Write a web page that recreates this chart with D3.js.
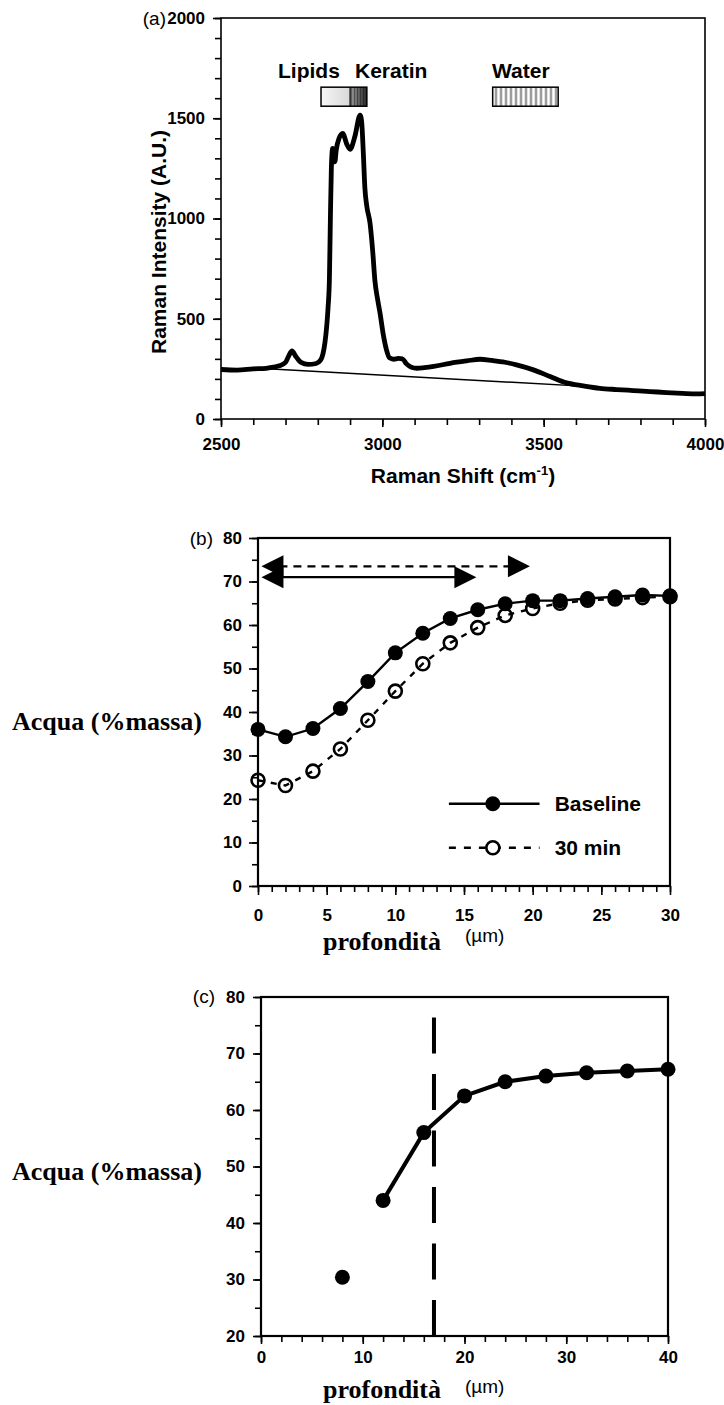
<!DOCTYPE html>
<html>
<head>
<meta charset="utf-8">
<script src="https://cdn.jsdelivr.net/npm/d3@7"></script>
<style>
  body { margin: 0; background: #fff; }
  svg { font-family: "Liberation Sans", Arial, sans-serif; }
  svg text { fill: #000; }
</style>
</head>
<body>
<div id="chart"></div>
<script>
// ---- panel (a): Raman spectrum ----
const ramanShift = [2500, 2550, 2600, 2640, 2680, 2700, 2710, 2720, 2732, 2748,
  2770, 2795, 2808, 2816, 2822, 2828, 2832, 2836, 2839, 2842,
  2846, 2850, 2853, 2857, 2866, 2877, 2890, 2900, 2915, 2931,
  2936, 2941, 2946, 2952, 2962, 2970, 2977, 2985, 2993, 3003,
  3013, 3022, 3035, 3050, 3062, 3075, 3090, 3107, 3130, 3159,
  3210, 3262, 3303, 3340, 3380, 3416, 3468, 3520, 3571, 3623,
  3674, 3726, 3778, 3830, 3881, 3930, 3974, 4000];
const ramanIntensity = [247, 244, 250, 253, 265, 282, 315, 340, 312, 282,
  272, 277, 292, 325, 380, 470, 560, 700, 1000, 1250,
  1350, 1320, 1283, 1340, 1400, 1425, 1370, 1345, 1410, 1516,
  1480, 1330, 1150, 1060, 975, 840, 690, 600, 527, 420,
  344, 305, 298, 302, 300, 275, 258, 253, 256, 262,
  278, 290, 298, 292, 283, 270, 245, 212, 180, 165,
  153, 147, 142, 137, 132, 128, 125, 127];
const fitShift = [2630, 3660];
const fitIntensity = [252, 160];
const bandNames = ["Lipids", "Keratin", "Water"];
const bandFrom = [2810, 2900, 3342];
const bandTo = [2900, 2952, 3545];
const bandLow = 1560, bandHigh = 1655;
const shiftTicks = [2500, 3000, 3500, 4000];
const intensityTicks = [0, 500, 1000, 1500, 2000];

// ---- panel (b): water profile, baseline vs 30 min ----
const depthB = [0, 2, 4, 6, 8, 10, 12, 14, 16, 18, 20, 22, 24, 26, 28, 30];
const waterBaseline = [36.0, 34.3, 36.2, 40.8, 47.0, 53.6, 58.1, 61.5, 63.5, 64.9, 65.6, 65.6, 66.1, 66.5, 66.9, 66.7];
const water30min = [24.3, 23.1, 26.4, 31.5, 38.1, 44.8, 51.1, 55.9, 59.4, 62.2, 63.8, 65.0, 65.7, 66.0, 66.3, 66.5];
const arrowEnd = [19.8, 15.9];     // dashed (30 min), solid (baseline)
const arrowLevel = [73.5, 71.0];
const seriesNames = ["Baseline", "30 min"];
const depthTicksB = [0, 5, 10, 15, 20, 25, 30];
const waterTicksB = [0, 10, 20, 30, 40, 50, 60, 70, 80];

// ---- panel (c) ----
const depthC = [8, 12, 16, 20, 24, 28, 32, 36, 40];
const waterC = [30.4, 44.0, 56.0, 62.5, 65.0, 66.0, 66.6, 66.9, 67.2];
const markerDepthC = 17;
const depthTicksC = [0, 10, 20, 30, 40];
const waterTicksC = [20, 30, 40, 50, 60, 70, 80];

const serif = "Liberation Serif, Times New Roman, serif";

const svg = d3.select("#chart").append("svg")
  .attr("width", 724).attr("height", 1405);

const defs = svg.append("defs");
// light fill for lipids
const gl = defs.append("linearGradient").attr("id", "lipidFill");
gl.append("stop").attr("offset", "0%").attr("stop-color", "#f6f6f6");
gl.append("stop").attr("offset", "100%").attr("stop-color", "#d8d8d8");
// darker graded stripes for keratin
const gk = defs.append("linearGradient").attr("id", "keratinFill");
gk.append("stop").attr("offset", "0%").attr("stop-color", "#9a9a9a");
gk.append("stop").attr("offset", "100%").attr("stop-color", "#2a2a2a");
const pk = defs.append("pattern").attr("id", "keratinStripes")
  .attr("patternUnits", "userSpaceOnUse").attr("width", 3).attr("height", 10);
pk.append("rect").attr("width", 1).attr("height", 10).attr("fill", "#000").attr("opacity", 0.35);
// vertical stripes for water
const pw = defs.append("pattern").attr("id", "waterStripes")
  .attr("patternUnits", "userSpaceOnUse").attr("width", 5).attr("height", 10);
pw.append("rect").attr("width", 5).attr("height", 10).attr("fill", "#e4e4e4");
pw.append("rect").attr("width", 2).attr("height", 10).attr("fill", "#9c9c9c");
pw.append("rect").attr("x", 3).attr("width", 1).attr("height", 10).attr("fill", "#fff");

function drawAxes(g, x, y, o) {
  const xr = x.range(), yr = y.range();
  const bottom = g.append("g").attr("transform", `translate(0,${yr[0]})`);
  bottom.call(d3.axisBottom(x).tickValues(o.xMinor).tickSize(6).tickFormat(""));
  bottom.append("g").call(d3.axisBottom(x).tickValues(o.xMajor).tickSize(o.major)
    .tickPadding(o.xPad).tickFormat(d3.format("d")));
  const left = g.append("g").attr("transform", `translate(${xr[0]},0)`);
  left.call(d3.axisLeft(y).tickValues(o.yMinor).tickSize(6).tickFormat(""));
  left.append("g").call(d3.axisLeft(y).tickValues(o.yMajor).tickSize(o.major)
    .tickPadding(o.yPad).tickFormat(d3.format("d")));
  g.selectAll(".domain").remove();
  g.selectAll(".tick line").attr("stroke", "#000").attr("stroke-width", 1.6);
  g.selectAll(".tick text").attr("font-size", 17).attr("font-weight", "bold")
    .attr("font-family", "Liberation Sans, Arial, sans-serif").attr("fill", "#000");
  g.append("rect")
    .attr("x", xr[0]).attr("y", yr[1])
    .attr("width", xr[1] - xr[0]).attr("height", yr[0] - yr[1])
    .attr("fill", "none").attr("stroke", "#000").attr("stroke-width", o.frame);
}

// ================= (a) =================
const ga = svg.append("g");
const xa = d3.scaleLinear().domain([2500, 4000]).range([221, 705]);
const ya = d3.scaleLinear().domain([0, 2000]).range([419, 18]);

ga.append("path")
  .datum(fitShift.map((s, i) => [s, fitIntensity[i]]))
  .attr("fill", "none").attr("stroke", "#000").attr("stroke-width", 1.4)
  .attr("d", d3.line().x(d => xa(d[0])).y(d => ya(d[1])));

ga.append("path")
  .datum(ramanShift.map((s, i) => [s, ramanIntensity[i]]))
  .attr("fill", "none").attr("stroke", "#000").attr("stroke-width", 4.8)
  .attr("stroke-linejoin", "round")
  .attr("d", d3.line().x(d => xa(d[0])).y(d => ya(d[1])).curve(d3.curveMonotoneX));

drawAxes(ga, xa, ya, {
  xMajor: shiftTicks, xMinor: d3.range(2500, 4001, 100),
  yMajor: intensityTicks, yMinor: d3.range(0, 2001, 100),
  major: 8, xPad: 11, yPad: 8, frame: 1.6
});

const bandFills = ["url(#lipidFill)", "url(#keratinFill)", "url(#waterStripes)"];
ga.selectAll(".band").data(bandNames).enter().append("rect")
  .attr("class", "band")
  .attr("x", (d, i) => xa(bandFrom[i]))
  .attr("y", ya(bandHigh))
  .attr("width", (d, i) => xa(bandTo[i]) - xa(bandFrom[i]))
  .attr("height", ya(bandLow) - ya(bandHigh))
  .attr("fill", (d, i) => bandFills[i]);
ga.append("rect")
  .attr("x", xa(bandFrom[1])).attr("y", ya(bandHigh))
  .attr("width", xa(bandTo[1]) - xa(bandFrom[1])).attr("height", ya(bandLow) - ya(bandHigh))
  .attr("fill", "url(#keratinStripes)");
// outlines: lipids+keratin share one box
[[bandFrom[0], bandTo[1]], [bandFrom[2], bandTo[2]]].forEach(r => {
  ga.append("rect")
    .attr("x", xa(r[0])).attr("y", ya(bandHigh))
    .attr("width", xa(r[1]) - xa(r[0])).attr("height", ya(bandLow) - ya(bandHigh))
    .attr("fill", "none").attr("stroke", "#000").attr("stroke-width", 1.5);
});
ga.append("line")
  .attr("x1", xa(bandTo[0])).attr("x2", xa(bandTo[0]))
  .attr("y1", ya(bandHigh)).attr("y2", ya(bandLow))
  .attr("stroke", "#000").attr("stroke-width", 1.2);

const bandLabelX = [278, 355, 492];
ga.selectAll(".bandLabel").data(bandNames).enter().append("text")
  .attr("x", (d, i) => bandLabelX[i]).attr("y", 78)
  .attr("font-size", 21).attr("font-weight", "bold")
  .text(d => d);

ga.append("text").attr("x", 166).attr("y", 25).attr("text-anchor", "end")
  .attr("font-size", 19).text("(a)");

const xt = ga.append("text").attr("x", 463).attr("y", 483)
  .attr("text-anchor", "middle").attr("font-size", 21).attr("font-weight", "bold");
xt.append("tspan").text("Raman Shift (cm");
xt.append("tspan").attr("font-size", 13).attr("dy", -8).text("-1");
xt.append("tspan").attr("dy", 8).text(")");

ga.append("text")
  .attr("transform", "translate(166,242) rotate(-90)")
  .attr("text-anchor", "middle").attr("font-size", 21).attr("font-weight", "bold")
  .text("Raman Intensity (A.U.)");

// ================= (b) =================
const gb = svg.append("g");
const xb = d3.scaleLinear().domain([0, 30]).range([258, 670]);
const yb = d3.scaleLinear().domain([0, 80]).range([886, 538]);

drawAxes(gb, xb, yb, {
  xMajor: depthTicksB, xMinor: d3.range(0, 31, 1),
  yMajor: waterTicksB, yMinor: d3.range(0, 81, 5),
  major: 9, xPad: 14, yPad: 7, frame: 2.2
});

// range arrows
arrowEnd.forEach((e, i) => {
  const yy = yb(arrowLevel[i]);
  const x0 = xb(0.25), x1 = xb(e);
  gb.append("line")
    .attr("x1", x0 + 18).attr("x2", x1 - 18).attr("y1", yy).attr("y2", yy)
    .attr("stroke", "#000").attr("stroke-width", 2.2)
    .attr("stroke-dasharray", i === 0 ? "8,6" : null);
  gb.append("path")
    .attr("d", `M${x0},${yy}L${x0 + 22},${yy - 11}L${x0 + 22},${yy + 11}Z`).attr("fill", "#000");
  gb.append("path")
    .attr("d", `M${x1},${yy}L${x1 - 22},${yy - 11}L${x1 - 22},${yy + 11}Z`).attr("fill", "#000");
});

const lineB = d3.line().x(d => xb(d[0])).y(d => yb(d[1]));
const ptsBase = depthB.map((d, i) => [d, waterBaseline[i]]);
const pts30 = depthB.map((d, i) => [d, water30min[i]]);

gb.append("path").datum(pts30).attr("d", lineB)
  .attr("fill", "none").attr("stroke", "#000").attr("stroke-width", 2.4)
  .attr("stroke-dasharray", "6,7");
gb.selectAll(".open").data(pts30).enter().append("circle")
  .attr("class", "open").attr("cx", d => xb(d[0])).attr("cy", d => yb(d[1])).attr("r", 6.5)
  .attr("fill", "none").attr("stroke", "#000").attr("stroke-width", 2.6);

gb.append("path").datum(ptsBase).attr("d", lineB)
  .attr("fill", "none").attr("stroke", "#000").attr("stroke-width", 2.4);
gb.selectAll(".filled").data(ptsBase).enter().append("circle")
  .attr("class", "filled").attr("cx", d => xb(d[0])).attr("cy", d => yb(d[1])).attr("r", 7.5)
  .attr("fill", "#000");

// legend
seriesNames.forEach((name, i) => {
  const ly = yb(i === 0 ? 18.9 : 8.8);
  gb.append("line").attr("x1", xb(13.9)).attr("x2", xb(20.5)).attr("y1", ly).attr("y2", ly)
    .attr("stroke", "#000").attr("stroke-width", 2.4)
    .attr("stroke-dasharray", i === 0 ? null : "7,8");
  gb.append("circle").attr("cx", xb(17.1)).attr("cy", ly).attr("r", i === 0 ? 7.5 : 6.5)
    .attr("fill", i === 0 ? "#000" : "#fff").attr("stroke", "#000")
    .attr("stroke-width", i === 0 ? 0 : 2.6);
  gb.append("text").attr("x", xb(21.6)).attr("y", ly).attr("dy", "0.36em")
    .attr("font-size", 21).attr("font-weight", "bold").text(name);
});

gb.append("text").attr("x", 213).attr("y", 545).attr("text-anchor", "end")
  .attr("font-size", 19).text("(b)");
gb.append("text").attr("x", 12).attr("y", 730)
  .attr("font-family", serif)
  .attr("font-size", 26).attr("font-weight", "bold").text("Acqua (%massa)");
gb.append("text").attr("x", 323).attr("y", 950)
  .attr("font-family", serif)
  .attr("font-size", 26).attr("font-weight", "bold").text("profondità");
gb.append("text").attr("x", 465).attr("y", 942).attr("font-size", 19).text("(\u00b5m)");

// ================= (c) =================
const gc = svg.append("g");
const xc = d3.scaleLinear().domain([0, 40]).range([261, 668]);
const yc = d3.scaleLinear().domain([20, 80]).range([1336, 997]);

drawAxes(gc, xc, yc, {
  xMajor: depthTicksC, xMinor: d3.range(0, 41, 2),
  yMajor: waterTicksC, yMinor: d3.range(20, 81, 5),
  major: 8, xPad: 7, yPad: 8, frame: 2.2
});

gc.append("line")
  .attr("x1", xc(markerDepthC)).attr("x2", xc(markerDepthC))
  .attr("y1", yc(20)).attr("y2", yc(80))
  .attr("stroke", "#000").attr("stroke-width", 4)
  .attr("stroke-dasharray", "36,20.5");

const ptsC = depthC.map((d, i) => [d, waterC[i]]);
gc.append("path").datum(ptsC.slice(1))
  .attr("d", d3.line().x(d => xc(d[0])).y(d => yc(d[1])))
  .attr("fill", "none").attr("stroke", "#000").attr("stroke-width", 4)
  .attr("stroke-linejoin", "round");
gc.selectAll(".pt").data(ptsC).enter().append("circle")
  .attr("class", "pt").attr("cx", d => xc(d[0])).attr("cy", d => yc(d[1])).attr("r", 7.5)
  .attr("fill", "#000");

gc.append("text").attr("x", 215).attr("y", 1003).attr("text-anchor", "end")
  .attr("font-size", 19).text("(c)");
gc.append("text").attr("x", 12).attr("y", 1180)
  .attr("font-family", serif)
  .attr("font-size", 26).attr("font-weight", "bold").text("Acqua (%massa)");
gc.append("text").attr("x", 323).attr("y", 1398)
  .attr("font-family", serif)
  .attr("font-size", 26).attr("font-weight", "bold").text("profondità");
gc.append("text").attr("x", 465).attr("y", 1393).attr("font-size", 19).text("(\u00b5m)");
</script>
</body>
</html>
